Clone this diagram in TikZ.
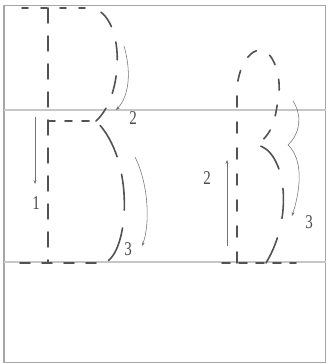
\documentclass[tikz,border=0pt]{standalone}
\usepackage{fontspec}
\setmainfont{Liberation Serif}
\usetikzlibrary{arrows.meta}
\begin{document}
\begin{tikzpicture}[x=1pt,y=-1pt,
  stroke/.style={draw=black!68, line width=1.6pt, line cap=round},
  guide/.style={draw=black!22, line width=1.4pt},
  frame/.style={draw=black!35, line width=1.2pt},
  hint/.style={draw=black!55, line width=0.55pt, -{Stealth[length=4pt,width=3pt]}},
  lbl/.style={text=black!70, inner sep=0pt, font=\fontsize{15}{15}\selectfont}
]
\useasboundingbox (0,0) rectangle (327,364);
\fill[white] (0,0) rectangle (327,364);
% frame and guide lines
\draw[frame] (4,5.5) rectangle (325.5,362.5);
\coordinate (gl1) at (4,110); \coordinate (gr1) at (325.5,110);
\coordinate (gl2) at (4,262); \coordinate (gr2) at (325.5,262);
\draw[guide] (gl1) -- (gr1);
\draw[guide] (gl2) -- (gr2);
% ---- left letter B ----
\coordinate (bTL) at (22,8);
\coordinate (bTR) at (92,8);
\coordinate (bST) at (48,8);
\coordinate (bSB) at (48,263);
\coordinate (bML) at (48,121);
\coordinate (bMR) at (96,121);
\coordinate (bBL) at (20,263);
\coordinate (bBR) at (104,263);
\draw[stroke, dash pattern=on 6pt off 13pt] (bTL) -- (bTR);
\draw[stroke, dash pattern=on 15pt off 13pt] (bST) -- (bSB);
\draw[stroke, dash pattern=on 18pt off 16pt, dash phase=24pt] (bTR) .. controls (125,15) and (125,95) .. (bMR);
\draw[stroke, dash pattern=on 7pt off 10pt] (bML) -- (bMR);
\draw[stroke, dash pattern=on 36pt off 18pt, dash phase=-6pt] (bMR) .. controls (136,160) and (129,255) .. (bBR);
\draw[stroke, dash pattern=on 10pt off 12pt] (bBL) -- (bBR);
% hints B
\coordinate (a1s) at (35,117); \coordinate (a1e) at (35,184);
\draw[hint] (a1s) -- (a1e);
\node[lbl] (n1) at (36,203) {\scalebox{1}[1.3]{1}};
\coordinate (a2s) at (124,46); \coordinate (a2e) at (116,110);
\draw[hint] (a2s) .. controls (131,70) and (130,95) .. (a2e);
\node[lbl] (n2) at (133,118) {\scalebox{1}[1.3]{2}};
\coordinate (a3s) at (135,157); \coordinate (a3e) at (142,246);
\draw[hint] (a3s) .. controls (149,185) and (150,225) .. (a3e);
\node[lbl] (n3) at (128,249) {\scalebox{1}[1.3]{3}};
% ---- right letter beta ----
\coordinate (rB) at (237,263);
\coordinate (rS) at (237,92);
\coordinate (rTop) at (262,50);
\coordinate (rMid) at (257,145);
\coordinate (rBot) at (266,263);
\coordinate (rBL) at (222,263);
\coordinate (rBR) at (296,263);
\draw[stroke, dash pattern=on 11pt off 15pt] (rB) -- (rS) .. controls (237,68) and (250,48) .. (rTop)
   .. controls (276,54) and (282,82) .. (278,100) .. controls (275,118) and (274,132) .. (rMid);
\draw[stroke, dash pattern=on 30pt off 20pt, dash phase=-4pt] (rMid) .. controls (285,150) and (295,215) .. (rBot);
\draw[stroke, dash pattern=on 8pt off 9pt] (rBL) -- (rBR);
% hints beta
\coordinate (b2s) at (227,246); \coordinate (b2e) at (227,160);
\draw[hint] (b2s) -- (b2e);
\node[lbl] (m2) at (207,178) {\scalebox{1}[1.3]{2}};
\coordinate (b3s) at (293,101); \coordinate (b3m) at (288,145); \coordinate (b3e) at (292,216);
\draw[hint] (b3s) .. controls (302,115) and (301,132) .. (b3m) .. controls (302,158) and (302,185) .. (b3e);
\node[lbl] (m3) at (309,222) {\scalebox{1}[1.3]{3}};
\end{tikzpicture}
\end{document}
